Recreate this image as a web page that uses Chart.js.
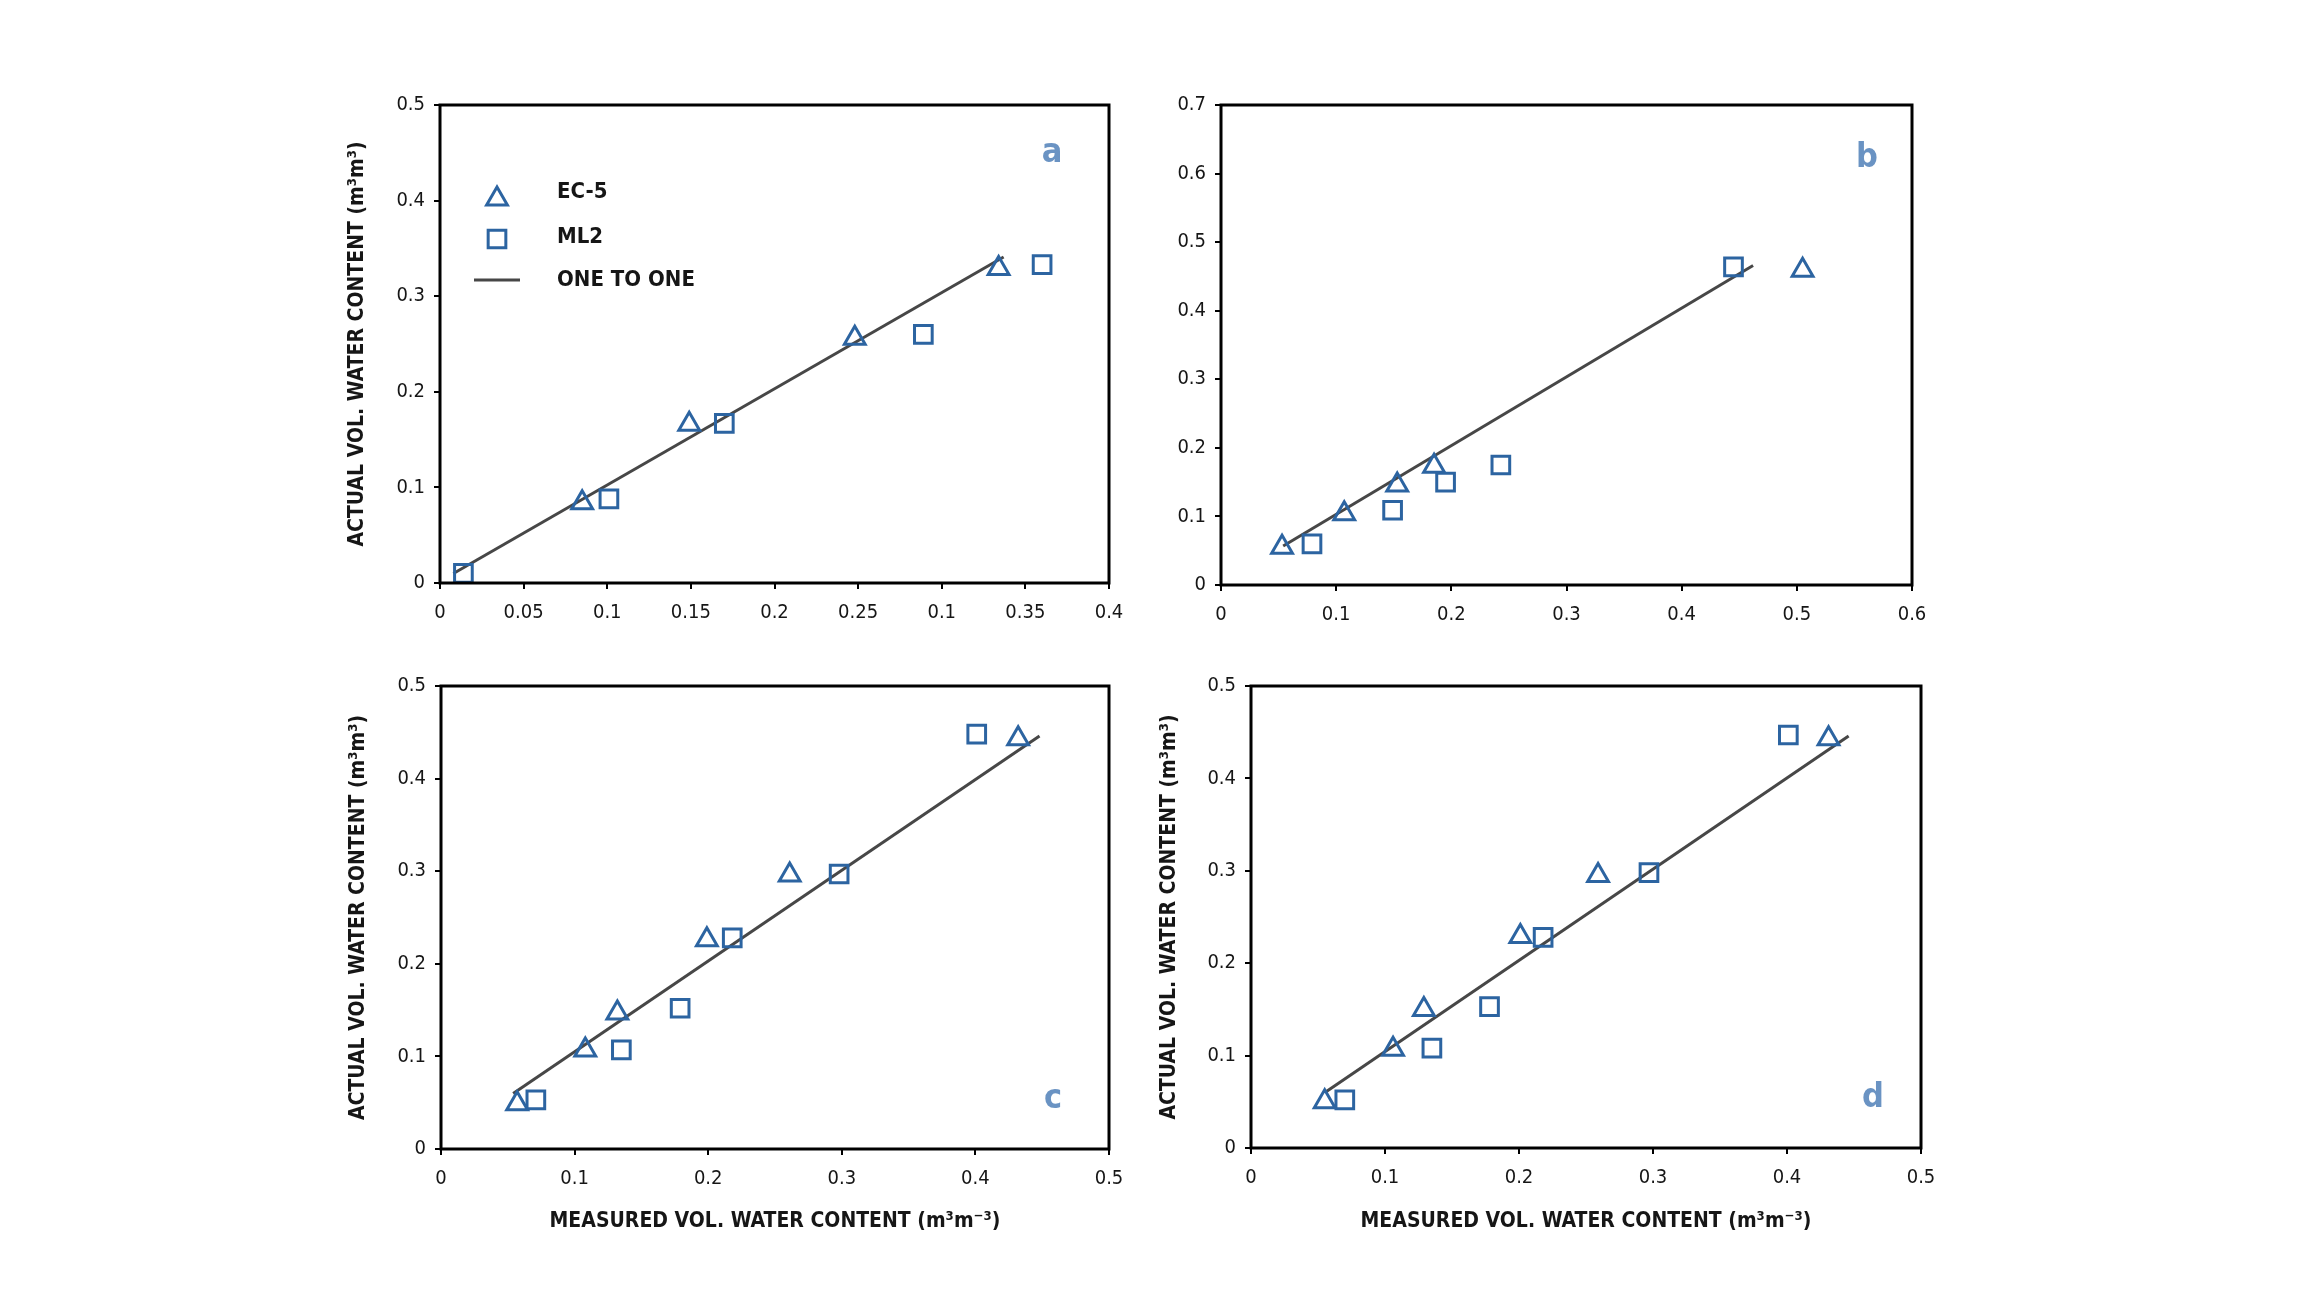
<!DOCTYPE html>
<html>
<head>
<meta charset="utf-8">
<title>Measured vs actual volumetric water content</title>
<script src="https://cdn.jsdelivr.net/npm/chart.js@4.4.1/dist/chart.umd.min.js"></script>
<style>
html, body { margin: 0; padding: 0; background: #fff; }
body { width: 2310px; height: 1299px; position: relative; overflow: hidden; }
canvas { position: absolute; }
</style>
</head>
<body>
<canvas id="chart-a"></canvas>
<canvas id="chart-b"></canvas>
<canvas id="chart-c"></canvas>
<canvas id="chart-d"></canvas>
<script>
// ===============================
// DATA
// ===============================
const seriesNames = ["EC-5", "ML2", "ONE TO ONE"];

// panel a
const aEc5X = [0.085, 0.149, 0.248, 0.334];
const aEc5Y = [0.084, 0.166, 0.256, 0.329];
const aMl2X = [0.014, 0.101, 0.170, 0.289, 0.360];
const aMl2Y = [0.010, 0.088, 0.167, 0.260, 0.333];
const aLineX = [0.008, 0.337];
const aLineY = [0.010, 0.341];
const aXTicks = [0, 0.05, 0.1, 0.15, 0.2, 0.25, 0.3, 0.35, 0.4];
const aXLabels = ["0", "0.05", "0.1", "0.15", "0.2", "0.25", "0.1", "0.35", "0.4"];
const aYTicks = [0, 0.1, 0.2, 0.3, 0.4, 0.5];
const aYLabels = ["0", "0.1", "0.2", "0.3", "0.4", "0.5"];

// panel b
const bEc5X = [0.053, 0.107, 0.153, 0.185, 0.505];
const bEc5Y = [0.055, 0.104, 0.146, 0.173, 0.459];
const bMl2X = [0.079, 0.149, 0.195, 0.243, 0.445];
const bMl2Y = [0.060, 0.109, 0.150, 0.175, 0.464];
const bLineX = [0.054, 0.462];
const bLineY = [0.057, 0.466];
const bXTicks = [0, 0.1, 0.2, 0.3, 0.4, 0.5, 0.6];
const bXLabels = ["0", "0.1", "0.2", "0.3", "0.4", "0.5", "0.6"];
const bYTicks = [0, 0.1, 0.2, 0.3, 0.4, 0.5, 0.6, 0.7];
const bYLabels = ["0", "0.1", "0.2", "0.3", "0.4", "0.5", "0.6", "0.7"];

// panel c
const cEc5X = [0.057, 0.108, 0.132, 0.199, 0.261, 0.432];
const cEc5Y = [0.049, 0.107, 0.147, 0.226, 0.296, 0.443];
const cMl2X = [0.071, 0.135, 0.179, 0.218, 0.298, 0.401];
const cMl2Y = [0.053, 0.107, 0.152, 0.228, 0.297, 0.448];
const cLineX = [0.054, 0.448];
const cLineY = [0.060, 0.446];

// panel d
const dEc5X = [0.055, 0.106, 0.129, 0.201, 0.259, 0.431];
const dEc5Y = [0.050, 0.107, 0.150, 0.229, 0.295, 0.443];
const dMl2X = [0.070, 0.135, 0.178, 0.218, 0.297, 0.401];
const dMl2Y = [0.052, 0.108, 0.153, 0.228, 0.298, 0.447];
const dLineX = [0.056, 0.446];
const dLineY = [0.061, 0.446];

// shared c/d ticks
const cdTicks = [0, 0.1, 0.2, 0.3, 0.4, 0.5];
const cdLabels = ["0", "0.1", "0.2", "0.3", "0.4", "0.5"];

const yTitle = "ACTUAL VOL. WATER CONTENT (m\u00B3m\u00B3)";
const xTitle = "MEASURED VOL. WATER CONTENT (m\u00B3m\u207B\u00B3)";

// ===============================
// STYLE
// ===============================
const MARKER = "#2c64a1";
const LINE = "#474747";
const LETTER = "#6a93c3";
const INK = "#161616";
const FONT = "'DejaVu Sans Condensed', 'Liberation Sans Narrow', 'DejaVu Sans', sans-serif";

function toPoints(xs, ys) {
    return xs.map((x, i) => ({ x, y: ys[i] }));
}

// frame round the plot + panel letter
const framePlugin = {
    id: "frame",
    afterDraw(chart, args, opts) {
        const { ctx, chartArea: a } = chart;
        ctx.save();
        ctx.strokeStyle = "#000";
        ctx.lineWidth = 3;
        ctx.strokeRect(a.left, a.top, a.right - a.left, a.bottom - a.top);
        ctx.fillStyle = LETTER;
        ctx.font = "bold 34px " + FONT;
        ctx.textAlign = "center";
        ctx.textBaseline = "middle";
        const ly = opts.top ? a.top + opts.dy : a.bottom - opts.dy;
        ctx.fillText(opts.letter, a.right - opts.dx, ly);
        ctx.restore();
    }
};

// legend drawn inside panel a
const insideLegend = {
    id: "insideLegend",
    afterDraw(chart, args, opts) {
        if (!opts.rows) return;
        const { ctx, chartArea: a } = chart;
        ctx.save();
        chart.data.datasets.forEach((ds, i) => {
            const y = a.top + opts.rows[i];
            const x = a.left + opts.markerX;
            if (ds.showLine) {
                ctx.strokeStyle = ds.borderColor;
                ctx.lineWidth = ds.borderWidth;
                ctx.beginPath();
                ctx.moveTo(x - 23, y);
                ctx.lineTo(x + 23, y);
                ctx.stroke();
            } else {
                ctx.strokeStyle = ds.borderColor;
                ctx.fillStyle = "rgba(0,0,0,0)";
                ctx.lineWidth = ds.borderWidth;
                Chart.helpers.drawPoint(ctx, {
                    pointStyle: ds.pointStyle,
                    radius: ds.pointRadius,
                    borderWidth: ds.borderWidth,
                    rotation: 0
                }, x, y + (ds.pointStyle === "triangle" ? 7 : 2));
            }
            ctx.fillStyle = INK;
            ctx.font = "bold 22px " + FONT;
            ctx.textAlign = "left";
            ctx.textBaseline = "middle";
            ctx.fillText(ds.label, a.left + opts.textX, y);
        });
        ctx.restore();
    }
};

function axis(min, max, ticks, labels, isX, p) {
    const cfg = {
        type: "linear",
        min, max,
        afterBuildTicks: s => { s.ticks = ticks.map(v => ({ value: v })); },
        afterFit: s => {
            if (isX) s.height = p.xAxisHeight;
            else s.width = p.yAxisWidth;
        },
        ticks: {
            autoSkip: false,
            maxRotation: 0,
            padding: isX ? 12 : 9,
            color: INK,
            font: { family: FONT, size: 20 },
            callback: (v, i) => labels[i]
        },
        grid: {
            display: true,
            drawOnChartArea: false,
            drawTicks: true,
            tickLength: 6,
            color: "#000",
            lineWidth: 2
        },
        border: { display: false }
    };
    const title = isX ? p.xTitle : p.yTitle;
    if (title) {
        cfg.title = {
            display: true,
            text: title,
            color: INK,
            font: { family: FONT, size: 21, weight: "bold" },
            padding: isX ? { top: 0, bottom: p.xTitlePad } : { top: p.yTitlePad, bottom: 0 }
        };
    }
    return cfg;
}

function buildPanel(id, p) {
    const canvas = document.getElementById(id);
    const left = p.box.left - p.yAxisWidth;
    const top = p.box.top - p.padTop;
    const width = p.box.right + p.padRight - left;
    const height = p.box.bottom + p.xAxisHeight - top;
    canvas.style.left = left + "px";
    canvas.style.top = top + "px";
    canvas.width = width;
    canvas.height = height;
    canvas.style.width = width + "px";
    canvas.style.height = height + "px";

    const markerBase = {
        showLine: false,
        borderColor: MARKER,
        backgroundColor: "rgba(0,0,0,0)",
        borderWidth: 3
    };

    new Chart(canvas, {
        type: "scatter",
        data: {
            datasets: [
                Object.assign({ label: seriesNames[0], data: toPoints(p.ec5X, p.ec5Y), pointStyle: "triangle", pointRadius: 12 }, markerBase),
                Object.assign({ label: seriesNames[1], data: toPoints(p.ml2X, p.ml2Y), pointStyle: "rect", pointRadius: 12.5 }, markerBase),
                {
                    label: seriesNames[2],
                    data: toPoints(p.lineX, p.lineY),
                    showLine: true,
                    borderColor: LINE,
                    borderWidth: 3,
                    pointRadius: 0,
                    fill: false
                }
            ]
        },
        options: {
            responsive: false,
            devicePixelRatio: 1,
            animation: false,
            layout: { padding: { top: p.padTop, right: p.padRight, left: 0, bottom: 0 } },
            plugins: {
                legend: { display: false },
                tooltip: { enabled: false },
                frame: p.letter,
                insideLegend: p.legend || {}
            },
            scales: {
                x: axis(0, p.xMax, p.xTicks, p.xLabels, true, p),
                y: axis(0, p.yMax, p.yTicks, p.yLabels, false, p)
            }
        },
        plugins: [framePlugin, insideLegend]
    });
}

// ===============================
// PANELS
// ===============================
buildPanel("chart-a", {
    box: { left: 440, right: 1109, top: 105, bottom: 583 },
    yAxisWidth: 120, xAxisHeight: 60, padTop: 45, padRight: 31,
    xMax: 0.4, yMax: 0.5,
    xTicks: aXTicks, xLabels: aXLabels, yTicks: aYTicks, yLabels: aYLabels,
    ec5X: aEc5X, ec5Y: aEc5Y, ml2X: aMl2X, ml2Y: aMl2Y, lineX: aLineX, lineY: aLineY,
    yTitle: yTitle, yTitlePad: 25,
    letter: { letter: "a", top: true, dx: 57, dy: 48 },
    legend: { rows: [87, 132, 175], markerX: 57, textX: 117 }
});

buildPanel("chart-b", {
    box: { left: 1221, right: 1912, top: 105, bottom: 585 },
    yAxisWidth: 80, xAxisHeight: 60, padTop: 45, padRight: 30,
    xMax: 0.6, yMax: 0.7,
    xTicks: bXTicks, xLabels: bXLabels, yTicks: bYTicks, yLabels: bYLabels,
    ec5X: bEc5X, ec5Y: bEc5Y, ml2X: bMl2X, ml2Y: bMl2Y, lineX: bLineX, lineY: bLineY,
    letter: { letter: "b", top: true, dx: 45, dy: 53 }
});

buildPanel("chart-c", {
    box: { left: 441, right: 1109, top: 686, bottom: 1149 },
    yAxisWidth: 120, xAxisHeight: 110, padTop: 40, padRight: 31,
    xMax: 0.5, yMax: 0.5,
    xTicks: cdTicks, xLabels: cdLabels, yTicks: cdTicks, yLabels: cdLabels,
    ec5X: cEc5X, ec5Y: cEc5Y, ml2X: cMl2X, ml2Y: cMl2Y, lineX: cLineX, lineY: cLineY,
    yTitle: yTitle, yTitlePad: 25,
    xTitle: xTitle, xTitlePad: 25,
    letter: { letter: "c", top: false, dx: 56, dy: 50 }
});

buildPanel("chart-d", {
    box: { left: 1251, right: 1921, top: 686, bottom: 1148 },
    yAxisWidth: 120, xAxisHeight: 110, padTop: 40, padRight: 31,
    xMax: 0.5, yMax: 0.5,
    xTicks: cdTicks, xLabels: cdLabels, yTicks: cdTicks, yLabels: cdLabels,
    ec5X: dEc5X, ec5Y: dEc5Y, ml2X: dMl2X, ml2Y: dMl2Y, lineX: dLineX, lineY: dLineY,
    yTitle: yTitle, yTitlePad: 26,
    xTitle: xTitle, xTitlePad: 24,
    letter: { letter: "d", top: false, dx: 48, dy: 50 }
});
</script>
</body>
</html>
